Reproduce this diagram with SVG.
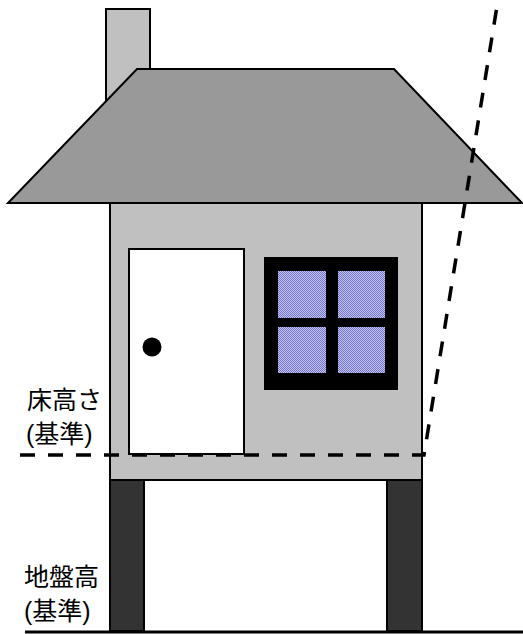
<svg xmlns="http://www.w3.org/2000/svg" width="523" height="634" viewBox="0 0 523 634">
  <style>
    .edge { stroke: #000; stroke-width: 2; }
    .label { font-family: "Liberation Sans", "Noto Sans CJK JP", sans-serif; font-size: 25px; fill: #000; }
    .dash { fill: none; stroke: #000; stroke-width: 3.5; stroke-dasharray: 15 13; }
  </style>
  <defs>
    <pattern id="glass" width="2" height="2" patternUnits="userSpaceOnUse">
      <rect width="2" height="2" fill="#c4c4f2"/>
      <rect width="1" height="1" fill="#7474c8"/>
      <rect x="1" y="1" width="1" height="1" fill="#7474c8"/>
    </pattern>
  </defs>

  <rect width="523" height="634" fill="#fff"/>

  <g id="chimney">
    <rect x="106" y="9" width="44" height="120" fill="#c0c0c0" class="edge"/>
  </g>

  <g id="body">
    <rect x="110" y="203" width="312" height="277" fill="#c0c0c0" class="edge"/>
  </g>

  <g id="roof">
    <polygon points="137,69 394,69 522,203 8,203" fill="#999999" class="edge"/>
  </g>

  <g id="door">
    <rect x="129" y="249" width="115" height="205" fill="#fff" class="edge"/>
    <circle cx="152" cy="347" r="9.5" fill="#000"/>
  </g>

  <g id="window">
    <rect x="264" y="257" width="134" height="133" fill="#000"/>
    <rect x="278" y="271" width="48" height="47" fill="url(#glass)"/>
    <rect x="338" y="271" width="47" height="47" fill="url(#glass)"/>
    <rect x="278" y="327" width="48" height="46" fill="url(#glass)"/>
    <rect x="338" y="327" width="47" height="46" fill="url(#glass)"/>
  </g>

  <g id="piers">
    <rect x="110" y="480" width="34" height="151" fill="#333333" class="edge"/>
    <rect x="387" y="480" width="35" height="151" fill="#333333" class="edge"/>
  </g>

  <g id="ground">
    <line x1="25" y1="632" x2="523" y2="632" stroke="#000" stroke-width="3"/>
  </g>

  <g id="connectors">
    <path class="dash" d="M20,455 L424,455 L498,0"/>
  </g>

  <g id="labels">
    <text class="label" x="27" y="409">床高さ</text>
    <text class="label" x="26" y="443">(基準)</text>
    <text class="label" x="24" y="586">地盤高</text>
    <text class="label" x="24" y="620">(基準)</text>
  </g>
</svg>
